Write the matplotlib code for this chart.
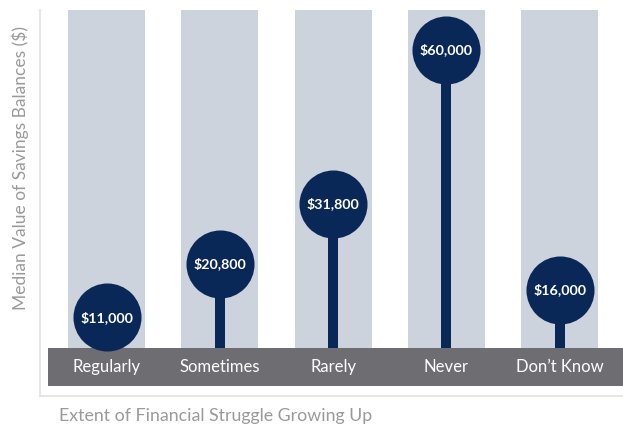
import matplotlib
matplotlib.use("Agg")
from matplotlib import pyplot as plt

categories = ["Regularly", "Sometimes", "Rarely", "Never", "Don\u2019t Know"]
values = [11000, 20800, 31800, 60000, 16000]
value_labels = ["$11,000", "$20,800", "$31,800", "$60,000", "$16,000"]

NAVY = "#0a2857"
COLUMN = "#cdd3dd"
BAND = "#6e6d72"
FRAME = "#e2e2e2"
TITLE = "#9a9a9a"

plt.rcParams["font.family"] = ["Lato", "DejaVu Sans"]

fig = plt.figure(figsize=(6.23, 4.30), dpi=100)
# axes frame: x 40..623 px, y 10..396 px
ax = fig.add_axes([40 / 623, 34 / 430, 583 / 623, 386 / 430])

ymin, ymax = -3400, 67240
ax.set_xlim(-0.588, 4.558)
ax.set_ylim(ymin, ymax)

x = list(range(len(categories)))
band_lo, band_hi = -1574, 5380

# background columns
ax.bar(x, ymax - band_hi, bottom=band_hi, width=0.68, color=COLUMN, zorder=1)

# stems
ax.vlines(x, band_hi, values, color=NAVY, linewidth=7.2, zorder=2)

# bottom band with category names
ax.fill_between([-0.517, 4.558], band_lo, band_hi, color=BAND, zorder=3, linewidth=0)
for xi, cat in zip(x, categories):
    ax.text(xi, (band_lo + band_hi) / 2, cat, ha="center", va="center",
            color="white", fontsize=12, zorder=4)

# circles and labels
ax.scatter(x, values, s=2400, color=NAVY, zorder=5, linewidths=0)
for xi, v, lab in zip(x, values, value_labels):
    ax.text(xi, v, lab, ha="center", va="center", color="white",
            fontsize=10.3, fontweight="bold", zorder=6)

for side in ["top", "right"]:
    ax.spines[side].set_visible(False)
for side in ["left", "bottom"]:
    ax.spines[side].set_color(FRAME)
    ax.spines[side].set_linewidth(1.2)
ax.set_xticks([])
ax.set_yticks([])

fig.text(20 / 623, 1 - 168 / 430, "Median Value of Savings Balances ($)",
         rotation=90, ha="center", va="center", color=TITLE,
         fontsize=12.5)
fig.text(216 / 623, 1 - 416 / 430, "Extent of Financial Struggle Growing Up",
         ha="center", va="center", color=TITLE, fontsize=12.8)

fig.savefig("out.png", dpi=100)
